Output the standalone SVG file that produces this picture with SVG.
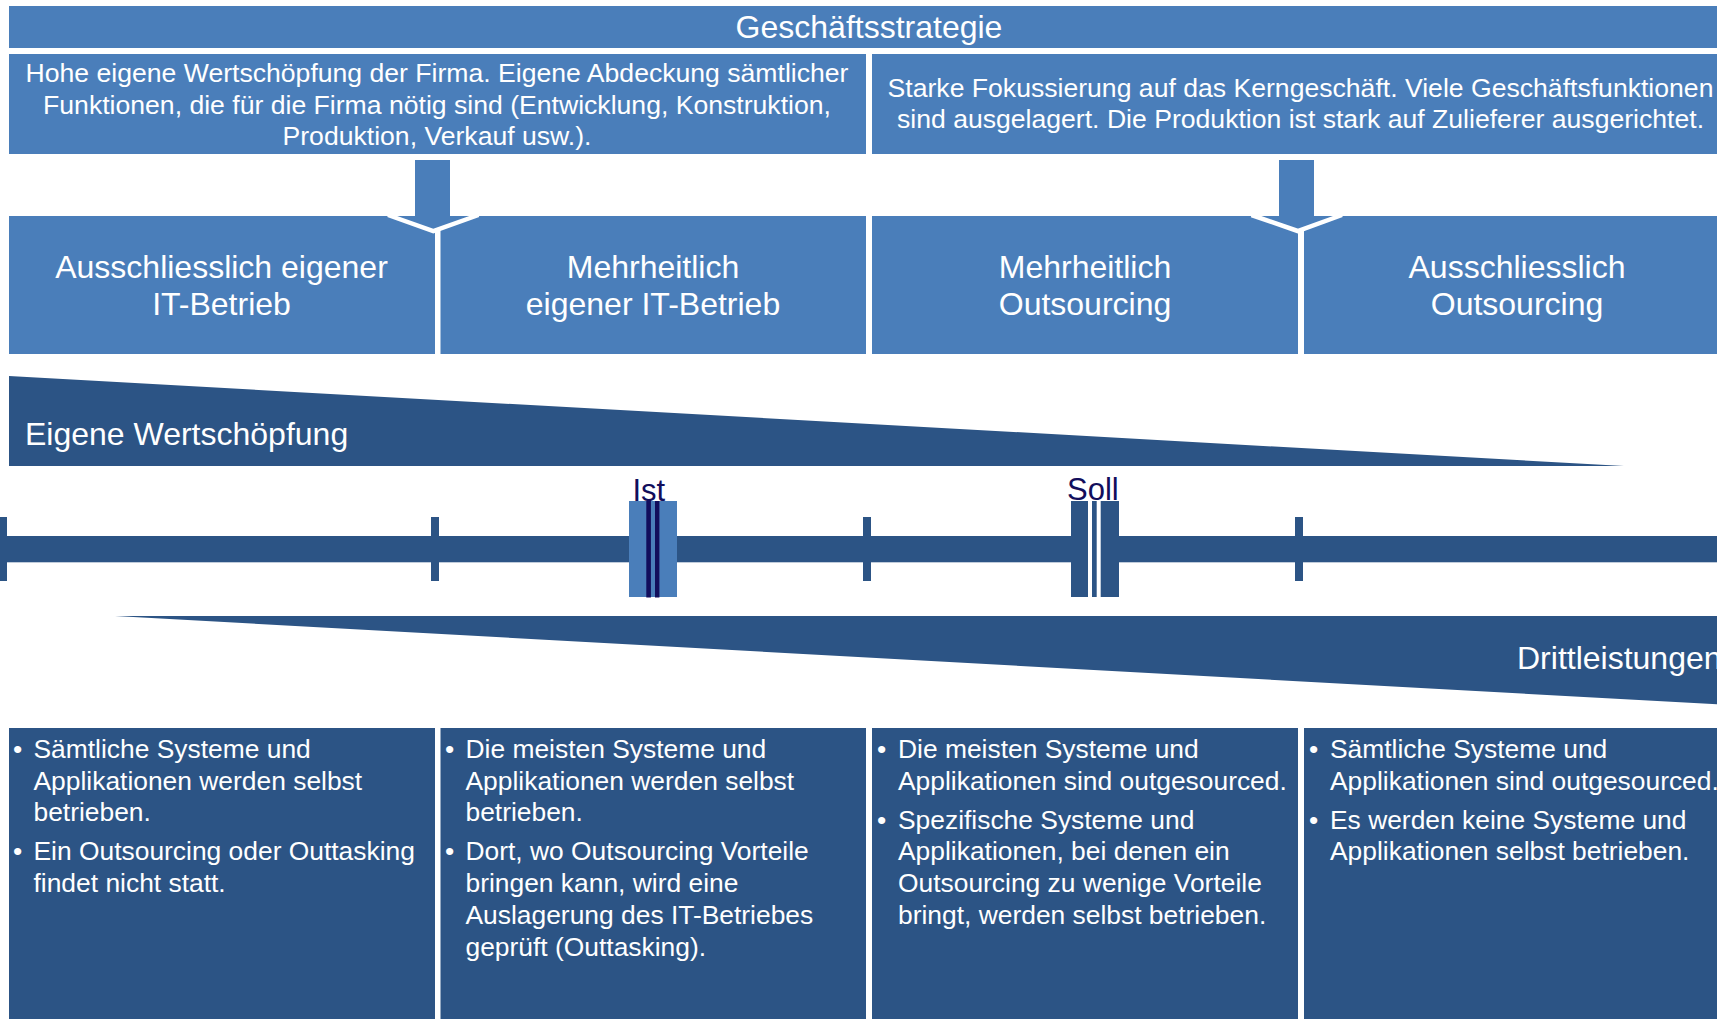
<svg xmlns="http://www.w3.org/2000/svg" width="1717" height="1019" viewBox="0 0 1717 1019">
  <style>
    .light { fill: #4A7EBA; }
    .dark { fill: #2C5485; }
    text { font-family: "Liberation Sans", Arial, sans-serif; }
    .big { font-size: 32px; fill: #FFFFFF; }
    .mid { font-size: 26.6px; fill: #FFFFFF; }
    .small { font-size: 26.4px; fill: #FFFFFF; }
    .mark { font-size: 31px; fill: #120E5C; }
    .c { text-anchor: middle; }
    .v { fill: none; stroke: #FFFFFF; stroke-width: 4.5; stroke-linejoin: miter; }
  </style>
  <rect width="1717" height="1019" fill="#FFFFFF"/>

  <g id="strategy">
    <rect class="light" x="9" y="6" width="1721" height="42"/>
    <text class="big c" x="869" y="38">Geschäftsstrategie</text>
  </g>

  <g id="desc-eigen">
    <rect class="light" x="9" y="54" width="857" height="100"/>
    <text class="mid c" x="437" y="81.7">Hohe eigene Wertschöpfung der Firma. Eigene Abdeckung sämtlicher</text>
    <text class="mid c" x="437" y="113.5">Funktionen, die für die Firma nötig sind (Entwicklung, Konstruktion,</text>
    <text class="mid c" x="437" y="145.3">Produktion, Verkauf usw.).</text>
  </g>

  <g id="desc-fokus">
    <rect class="light" x="872" y="54" width="858" height="100"/>
    <text class="mid c" x="1300.5" y="96.5">Starke Fokussierung auf das Kerngeschäft. Viele Geschäftsfunktionen</text>
    <text class="mid c" x="1300.5" y="128">sind ausgelagert. Die Produktion ist stark auf Zulieferer ausgerichtet.</text>
  </g>

  <g id="cat-1">
    <rect class="light" x="9" y="216" width="426" height="138"/>
    <text class="big c" x="221.5" y="277.7">Ausschliesslich eigener</text>
    <text class="big c" x="221.5" y="315">IT-Betrieb</text>
  </g>
  <g id="cat-2">
    <rect class="light" x="440.5" y="216" width="425.5" height="138"/>
    <text class="big c" x="653" y="277.7">Mehrheitlich</text>
    <text class="big c" x="653" y="315">eigener IT-Betrieb</text>
  </g>
  <g id="cat-3">
    <rect class="light" x="872" y="216" width="426" height="138"/>
    <text class="big c" x="1085" y="277.7">Mehrheitlich</text>
    <text class="big c" x="1085" y="315">Outsourcing</text>
  </g>
  <g id="cat-4">
    <rect class="light" x="1304" y="216" width="426" height="138"/>
    <text class="big c" x="1517" y="277.7">Ausschliesslich</text>
    <text class="big c" x="1517" y="315">Outsourcing</text>
  </g>

  <g id="connectors">
    <g id="arrow-left">
      <rect class="light" x="415" y="160" width="35" height="57"/>
      <polygon class="light" points="390,216 476.5,216 433.3,230"/>
      <polyline class="v" points="388,215 433.3,231 478.5,215"/>
    </g>
    <g id="arrow-right">
      <rect class="light" x="1279" y="160" width="35" height="57"/>
      <polygon class="light" points="1253.5,216 1340,216 1297.7,230"/>
      <polyline class="v" points="1251.5,215 1297.7,231 1342,215"/>
    </g>
  </g>

  <g id="wedge-eigen">
    <polygon class="dark" points="9,376 1624,466 9,466"/>
    <text class="big" x="25" y="445">Eigene Wertschöpfung</text>
  </g>

  <g id="axis">
    <rect class="dark" x="0" y="536" width="1717" height="26.3"/>
    <rect class="dark" x="0" y="517" width="7" height="64"/>
    <rect class="dark" x="431" y="517" width="8" height="64"/>
    <rect class="dark" x="863" y="517" width="8" height="64"/>
    <rect class="dark" x="1295" y="517" width="8" height="64"/>
  </g>

  <g id="marker-ist">
    <rect class="light" x="629" y="501" width="48" height="96"/>
    <rect fill="#120E5C" x="646.3" y="501" width="4.6" height="96.5"/>
    <rect fill="#120E5C" x="655" y="501" width="4.4" height="96.5"/>
    <text class="mark" x="632.5" y="500.7">Ist</text>
  </g>

  <g id="marker-soll">
    <rect class="dark" x="1071" y="501" width="48" height="96"/>
    <rect fill="#FFFFFF" x="1088" y="501" width="4" height="96"/>
    <rect fill="#FFFFFF" x="1096.7" y="501" width="4" height="96"/>
    <text class="mark" x="1067" y="499.5">Soll</text>
  </g>

  <g id="wedge-dritt">
    <polygon class="dark" points="115,616 1730,616 1730,705"/>
    <text class="big" x="1517" y="669.3">Drittleistungen</text>
  </g>

  <g id="detail-1">
    <rect class="dark" x="9" y="728" width="426" height="300"/>
    <text class="small" x="13" y="758">•</text>
    <text class="small" x="33.5" y="758">Sämtliche Systeme und</text>
    <text class="small" x="33.5" y="789.7">Applikationen werden selbst</text>
    <text class="small" x="33.5" y="821.4">betrieben.</text>
    <text class="small" x="13" y="860.4">•</text>
    <text class="small" x="33.5" y="860.4">Ein Outsourcing oder Outtasking</text>
    <text class="small" x="33.5" y="892.1">findet nicht statt.</text>
  </g>

  <g id="detail-2">
    <rect class="dark" x="440.5" y="728" width="425.5" height="300"/>
    <text class="small" x="445" y="758">•</text>
    <text class="small" x="465.5" y="758">Die meisten Systeme und</text>
    <text class="small" x="465.5" y="789.7">Applikationen werden selbst</text>
    <text class="small" x="465.5" y="821.4">betrieben.</text>
    <text class="small" x="445" y="860.4">•</text>
    <text class="small" x="465.5" y="860.4">Dort, wo Outsourcing Vorteile</text>
    <text class="small" x="465.5" y="892.1">bringen kann, wird eine</text>
    <text class="small" x="465.5" y="923.8">Auslagerung des IT-Betriebes</text>
    <text class="small" x="465.5" y="955.5">geprüft (Outtasking).</text>
  </g>

  <g id="detail-3">
    <rect class="dark" x="872" y="728" width="426" height="300"/>
    <text class="small" x="877" y="758">•</text>
    <text class="small" x="898" y="758">Die meisten Systeme und</text>
    <text class="small" x="898" y="789.7">Applikationen sind outgesourced.</text>
    <text class="small" x="877" y="828.7">•</text>
    <text class="small" x="898" y="828.7">Spezifische Systeme und</text>
    <text class="small" x="898" y="860.4">Applikationen, bei denen ein</text>
    <text class="small" x="898" y="892.1">Outsourcing zu wenige Vorteile</text>
    <text class="small" x="898" y="923.8">bringt, werden selbst betrieben.</text>
  </g>

  <g id="detail-4">
    <rect class="dark" x="1304" y="728" width="426" height="300"/>
    <text class="small" x="1309" y="758">•</text>
    <text class="small" x="1330" y="758">Sämtliche Systeme und</text>
    <text class="small" x="1330" y="789.7">Applikationen sind outgesourced.</text>
    <text class="small" x="1309" y="828.7">•</text>
    <text class="small" x="1330" y="828.7">Es werden keine Systeme und</text>
    <text class="small" x="1330" y="860.4">Applikationen selbst betrieben.</text>
  </g>
</svg>
